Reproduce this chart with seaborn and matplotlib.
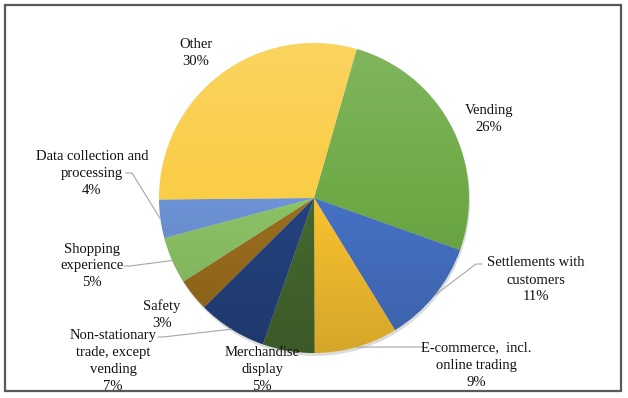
import matplotlib
matplotlib.use("Agg")
import matplotlib.pyplot as plt
from matplotlib.patches import Rectangle, Circle
import seaborn as sns
import numpy as np

# Share of use cases (%), clockwise starting from "Vending"
categories = ["Vending", "Settlements with customers", "E-commerce, incl. online trading",
              "Merchandise display", "Non-stationary trade, except vending", "Safety",
              "Shopping experience", "Data collection and processing", "Other"]
shares = [26.0, 10.8, 8.7, 5.4, 7.2, 3.4, 4.9, 4.0, 29.6]
label_text = ["Vending", "Settlements with\ncustomers", "E-commerce,  incl.\nonline trading",
              "Merchandise\ndisplay", "Non-stationary\ntrade, except\nvending", "Safety",
              "Shopping\nexperience", "Data collection and\nprocessing", "Other"]
colors = ["#6DAA45", "#4671C4", "#F8C12F", "#46682E", "#24427E",
          "#9B6E1E", "#8CC366", "#6C93D6", "#FACD46"]

sns.set_theme(style="white")
plt.rcParams['font.family'] = ['Liberation Serif', 'DejaVu Serif']

# layout in pixel coordinates (y down)
cx, cy, rad = 314, 198, 155
label_pos = [(489, 119), (536, 280), (476, 365), (262, 369), (113, 361),
             (162, 315), (92, 266), (92, 173), (196, 53)]
leaders = [None, [(482, 264), (476, 264)], [(423, 347), (417, 347)], None,
           [(158, 337), (163, 337)], None, [(124, 266), (130, 266)],
           [(126, 173), (132, 173)], None]

fig = plt.figure(figsize=(6.28, 3.98), dpi=100)
ax = fig.add_axes([0, 0, 1, 1])

ax.add_patch(Circle((cx + 1, cy + 3), rad, color="#999999", alpha=0.35, zorder=0, lw=0))
wedges, _ = ax.pie(shares, colors=colors, startangle=-74, counterclock=True,
                   center=(cx, cy), radius=rad,
                   wedgeprops=dict(linewidth=0, edgecolor="none"))

# soft vertical shading over the pie, like the office-style gradient fill
grad = np.linspace(0, 1, 256).reshape(-1, 1)
shade = np.zeros((256, 1, 4))
shade[..., :3] = np.where(grad[..., None] < 0.5, 1.0, 0.0)
shade[..., 3] = np.abs(grad - 0.5) * 0.28
img = ax.imshow(shade, extent=(cx - rad, cx + rad, cy + rad, cy - rad),
                aspect="auto", zorder=2, interpolation="bilinear")
clip = Circle((cx, cy), rad, transform=ax.transData)
img.set_clip_path(clip)

ax.set_xlim(0, 628)
ax.set_ylim(398, 0)
ax.axis("off")

for w, txt, val, pos, ld in zip(wedges, label_text, shares, label_pos, leaders):
    ax.text(pos[0], pos[1], f"{txt}\n{round(val)}%", ha="center", va="center",
            fontsize=10.5, linespacing=1.4, color="#111111", zorder=4)
    if ld is not None:
        mid = np.deg2rad((w.theta1 + w.theta2) / 2)
        ex, ey = cx + rad * np.cos(mid), cy + rad * np.sin(mid)
        xs = [p[0] for p in ld] + [ex]
        ys = [p[1] for p in ld] + [ey]
        ax.plot(xs, ys, color="#A6A6A6", lw=0.8, zorder=3)

ax.add_patch(Rectangle((5, 5), 616, 386, fill=False, edgecolor="#595959", lw=1.6))

fig.savefig("out.png", dpi=100)
